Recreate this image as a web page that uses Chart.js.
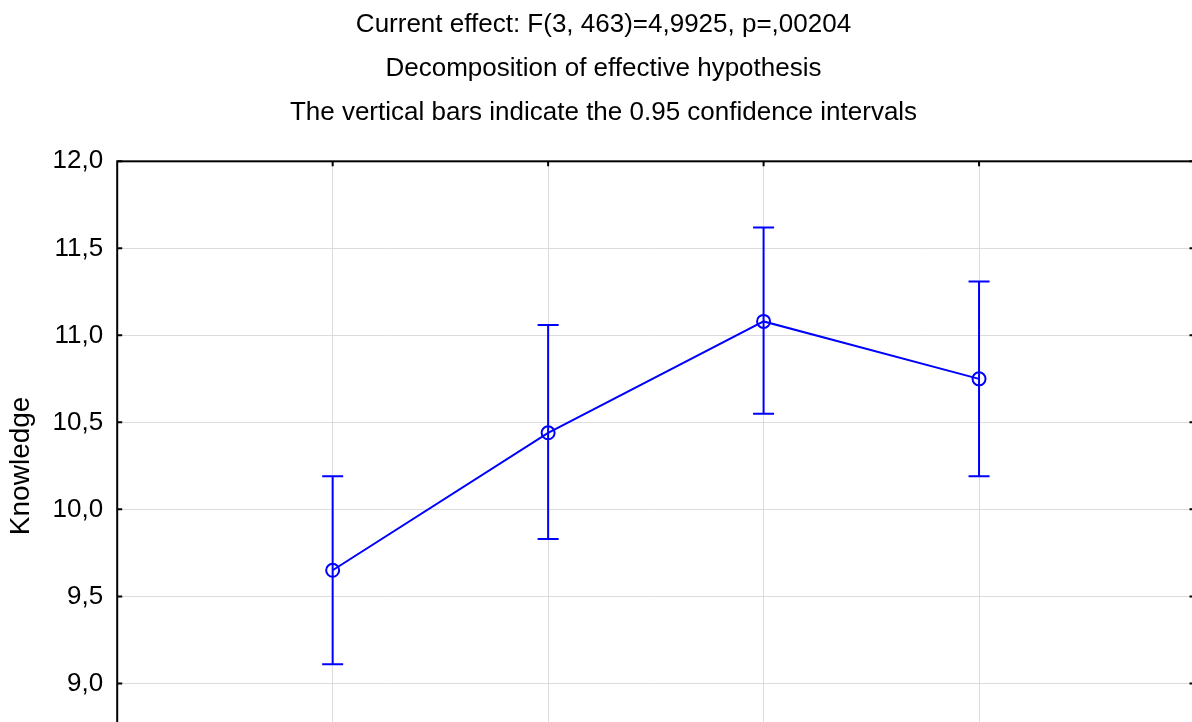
<!DOCTYPE html>
<html>
<head>
<meta charset="utf-8">
<script src="https://cdn.jsdelivr.net/npm/chart.js@4"></script>
<style>
  html, body { margin: 0; padding: 0; background: #fff; overflow: hidden; }
  canvas { display: block; }
</style>
</head>
<body>
<canvas id="MeansChart" width="1203" height="800"></canvas>
<script>
// group positions on the x axis (labels are below the visible area)
const groups = [1, 2, 3, 4];
// group means and the 0.95 confidence limits
const means = [9.65, 10.44, 11.08, 10.75];
const upper = [10.19, 11.06, 11.62, 11.31];
const lower = [9.11, 9.83, 10.55, 10.19];
const yTicks = [8.5, 9.0, 9.5, 10.0, 10.5, 11.0, 11.5, 12.0];

const titleLines = [
    'Current effect: F(3, 463)=4,9925, p=,00204',
    'Decomposition of effective hypothesis',
    'The vertical bars indicate the 0.95 confidence intervals'
];

const blue = '#0000ff';

// error bars, frame and inward ticks
const errorBars = {
    id: 'errorBars',
    afterDatasetsDraw(chart) {
        const ctx = chart.ctx;
        const xs = chart.scales.x, ys = chart.scales.y;
        ctx.save();
        ctx.strokeStyle = blue;
        ctx.lineWidth = 2;
        groups.forEach((g, i) => {
            const x = xs.getPixelForValue(g);
            const yHi = ys.getPixelForValue(upper[i]);
            const yLo = ys.getPixelForValue(lower[i]);
            ctx.beginPath();
            ctx.moveTo(x, yHi); ctx.lineTo(x, yLo);
            ctx.moveTo(x - 10.5, yHi); ctx.lineTo(x + 10.5, yHi);
            ctx.moveTo(x - 10.5, yLo); ctx.lineTo(x + 10.5, yLo);
            ctx.stroke();
        });
        ctx.restore();
    },
    afterDraw(chart) {
        const ctx = chart.ctx;
        const a = chart.chartArea;
        const xs = chart.scales.x, ys = chart.scales.y;
        ctx.save();
        ctx.strokeStyle = '#000';
        ctx.lineWidth = 2;
        ctx.strokeRect(a.left, a.top, a.right - a.left, a.bottom - a.top);
        ctx.beginPath();
        yTicks.forEach(v => {
            const y = ys.getPixelForValue(v);
            ctx.moveTo(a.left, y); ctx.lineTo(a.left + 5, y);
            ctx.moveTo(a.right, y); ctx.lineTo(a.right - 5, y);
        });
        groups.forEach(g => {
            const x = xs.getPixelForValue(g);
            ctx.moveTo(x, a.top); ctx.lineTo(x, a.top + 5);
            ctx.moveTo(x, a.bottom); ctx.lineTo(x, a.bottom - 5);
        });
        ctx.stroke();
        ctx.restore();
    }
};

const ctx = document.getElementById('MeansChart').getContext('2d');
const chart = new Chart(ctx, {
    type: 'line',
    data: {
        datasets: [{
            data: groups.map((g, i) => ({ x: g, y: means[i] })),
            borderColor: blue,
            borderWidth: 2,
            pointRadius: 6.5,
            pointBorderWidth: 2,
            pointBorderColor: blue,
            pointBackgroundColor: 'rgba(0,0,0,0)',
            tension: 0
        }]
    },
    options: {
        responsive: false,
        animation: false,
        layout: { padding: { left: 4, right: 0, top: 0, bottom: 29 } },
        plugins: {
            legend: { display: false },
            tooltip: { enabled: false },
            title: {
                display: true,
                text: titleLines,
                color: '#000',
                font: { family: '"Liberation Sans", Arial, sans-serif', size: 26, weight: 'normal', lineHeight: 1.69 },
                padding: { top: 3, bottom: 26.5 }
            }
        },
        scales: {
            x: {
                type: 'linear',
                min: 0,
                max: 5,
                ticks: { display: false, stepSize: 1 },
                grid: { color: '#dcdcdc', lineWidth: 1, drawTicks: false },
                border: { display: false }
            },
            y: {
                min: 8.5,
                max: 12,
                afterBuildTicks: axis => { axis.ticks = yTicks.map(v => ({ value: v })); },
                ticks: {
                    color: '#000',
                    padding: 14,
                    font: { family: '"Liberation Sans", Arial, sans-serif', size: 26 },
                    callback: v => v.toFixed(1).replace('.', ',')
                },
                grid: { color: '#dcdcdc', lineWidth: 1, drawTicks: false },
                border: { display: false },
                title: {
                    display: true,
                    text: 'Knowledge',
                    color: '#000',
                    font: { family: '"Liberation Sans", Arial, sans-serif', size: 28 },
                    padding: { top: 0, bottom: 1 }
                }
            }
        }
    },
    plugins: [errorBars]
});
</script>
</body>
</html>
